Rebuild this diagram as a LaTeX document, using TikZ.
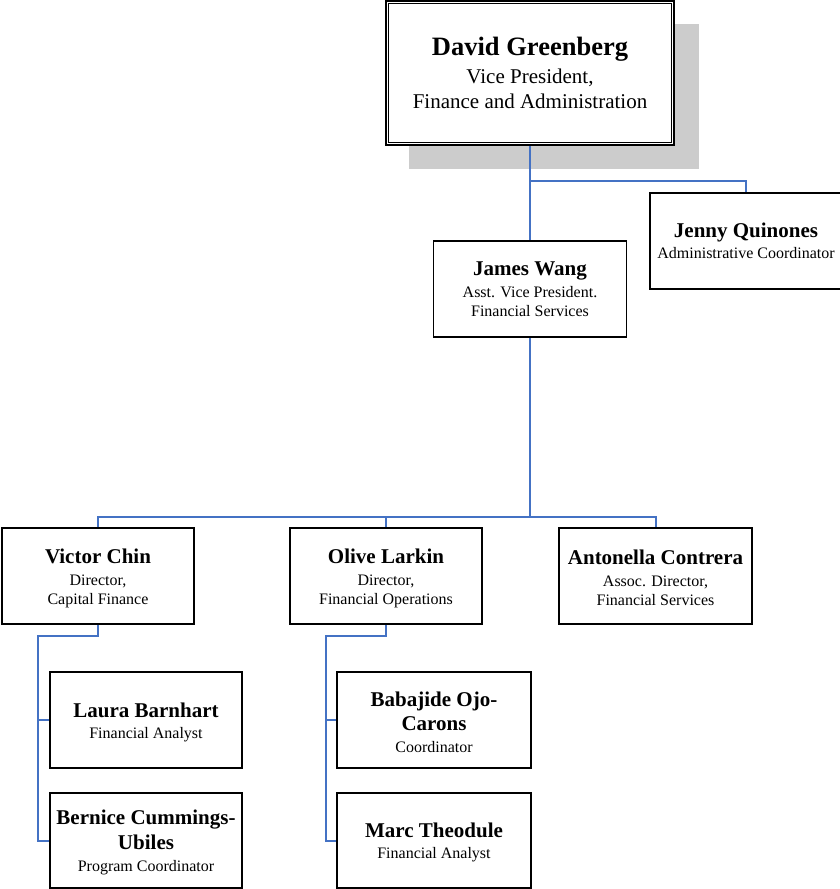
\documentclass[tikz,border=0pt]{standalone}
\usepackage{fontspec}
\setmainfont{Liberation Serif}
\definecolor{linkblue}{HTML}{4472C4}
\definecolor{shadowgray}{HTML}{CCCCCC}
\newcommand\pname[1]{{\bfseries\fontsize{21}{24}\selectfont #1}}
\newcommand\bigname[1]{{\bfseries\fontsize{26.5}{30}\selectfont #1}}
\newcommand\tstrut{\rule{0pt}{19pt}}
\begin{document}
\begin{tikzpicture}[x=1pt,y=-1pt,
  box/.style={draw=black, line width=1.8pt, fill=white, minimum width=192pt,
    minimum height=96pt, align=center, inner sep=0pt,
    font=\fontsize{16}{19}\selectfont},
  vpbox/.style={draw=black, line width=2.4pt, fill=white, minimum width=288pt,
    minimum height=144pt, align=center, inner sep=0pt,
    font=\fontsize{21}{25}\selectfont},
  conn/.style={draw=linkblue, line width=2pt}]
\clip (0,0) rectangle (840,889);
\fill[white] (0,0) rectangle (840,889);
% shadow
\fill[shadowgray] (409,24) rectangle (699,169);
% top box
\node[vpbox] (vp) at (530,73) {\bigname{David Greenberg}\\[3pt]Vice President,\\Finance and Administration};
\draw[line width=1.2pt] ([xshift=4pt,yshift=4pt]vp.south west) rectangle ([xshift=-4pt,yshift=-4pt]vp.north east);
% second level
\node[box, minimum width=193pt] (james) at (530,289) {\pname{James Wang}\\[3pt]Asst. Vice President.\\Financial Services};
\node[box] (jenny) at (746,241) {\pname{Jenny Quinones}\\[2pt]Administrative Coordinator};
% third level
\node[box] (victor) at (98,576) {\tstrut\pname{Victor Chin}\\[3pt]Director,\\Capital Finance};
\node[box] (olive) at (386,576) {\tstrut\pname{Olive Larkin}\\[3pt]Director,\\Financial Operations};
\node[box, minimum width=193pt] (anton) at (655.5,576) {\tstrut\pname{Antonella Contrera}\\[3pt]Assoc. Director,\\Financial Services};
% fourth level
\node[box] (laura) at (146,720) {\tstrut\pname{Laura Barnhart}\\[2pt]Financial Analyst};
\node[box, minimum height=95pt] (bernice) at (146,840.5) {\tstrut\pname{Bernice Cummings-}\\[5pt]\pname{Ubiles}\\[3pt]Program Coordinator};
\node[box, minimum width=194pt] (baba) at (434,720) {\tstrut\pname{Babajide Ojo-}\\[5pt]\pname{Carons}\\[3pt]Coordinator};
\node[box, minimum width=194pt, minimum height=95pt] (marc) at (434,840.5) {\tstrut\pname{Marc Theodule}\\[2pt]Financial Analyst};
% connectors
\coordinate (j1) at (530,181);
\coordinate (bus) at (530,517);
\coordinate (vsp) at (38,636);
\coordinate (osp) at (326,636);
\draw[conn] (vp.south) -- (james.north);
\draw[conn] (j1) -| (jenny.north);
\draw[conn] (james.south) -- (bus);
\draw[conn] (victor.north) |- (bus) -| (anton.north);
\draw[conn] (olive.north) -- (olive.north |- bus);
\draw[conn] (victor.south) |- (vsp) |- (laura.west);
\draw[conn] (vsp) |- (bernice.west);
\draw[conn] (olive.south) |- (osp) |- (baba.west);
\draw[conn] (osp) |- (marc.west);
\end{tikzpicture}
\end{document}
